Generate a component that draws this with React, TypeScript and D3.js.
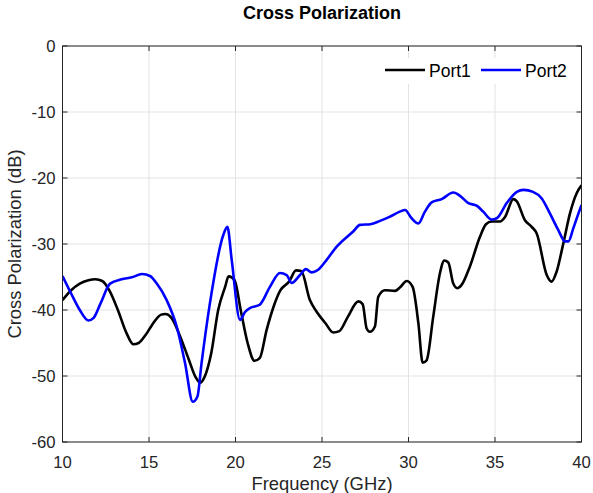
import React from "react";
import * as d3 from "d3";

const port1Freq = [10, 10.5, 11, 11.5, 11.9, 12.3, 12.7, 13.2, 13.7, 14.1, 14.4, 14.8, 15.3, 15.7, 15.95, 16.3, 16.8, 17.3, 17.7, 17.95, 18.2, 18.6, 19.0, 19.4, 19.6, 19.95, 20.3, 20.7, 21.1, 21.4, 21.8, 22.2, 22.6, 23.1, 23.5, 23.8, 24.3, 24.7, 25.2, 25.65, 26.0, 26.5, 27.1, 27.35, 27.58, 27.77, 28.06, 28.25, 28.64, 29.22, 29.5, 29.9, 30.24, 30.57, 30.82, 31.05, 31.43, 31.82, 32.07, 32.3, 32.59, 32.82, 33.07, 33.55, 34.13, 34.48, 34.8, 35.29, 35.58, 36.06, 36.25, 36.73, 37.12, 37.41, 37.99, 38.27, 38.56, 38.95, 39.33, 39.72, 40];
const port1Values = [-38.5, -37, -36, -35.5, -35.35, -35.6, -37, -40, -43.5, -45.2, -45, -43.8, -41.8, -40.7, -40.6, -41.2, -44, -47.5, -50.2, -51.0, -50.2, -46.5, -40, -36.5, -34.9, -35.5, -40, -45, -47.7, -47.3, -43, -39.5, -37, -35.7, -34, -34.1, -38.5, -40.3, -42, -43.4, -43.2, -41, -38.7, -39.1, -42.8, -43.3, -42.5, -38, -37, -37.1, -36.6, -35.6, -36.5, -42, -48, -47.6, -41, -34.4, -32.5, -32.8, -36, -36.7, -36.2, -33.4, -28.9, -27, -26.6, -26.6, -25.9, -23.2, -23.5, -26.4, -27.4, -28.4, -34.7, -35.7, -34.2, -29.9, -25.4, -22.3, -21.1];

const port2Freq = [10, 10.5, 11, 11.5, 11.8, 12.2, 12.75, 13.42, 14.0, 14.6, 15.06, 15.45, 16.02, 16.6, 17.08, 17.53, 17.8, 18.04, 18.52, 19.3, 19.53, 19.78, 20.26, 20.55, 20.84, 21.4, 21.99, 22.57, 22.96, 23.25, 23.73, 24.07, 24.4, 24.78, 25.27, 25.85, 26.8, 27.2, 27.8, 28.35, 28.9, 29.5, 29.8, 30.18, 30.57, 30.95, 31.34, 31.92, 32.59, 32.98, 33.46, 33.94, 34.32, 34.8, 35.1, 35.68, 36.26, 36.65, 37.2, 37.7, 38.18, 38.66, 39.05, 39.24, 39.53, 39.82, 40];
const port2Values = [-34.85, -37.5, -40, -41.6, -41.2, -39, -36, -35.35, -35.05, -34.55, -34.85, -36, -38.5, -42.5, -48, -53.9, -53.1, -48, -39, -28.6, -27.4, -32.4, -41.5, -40.3, -39.7, -39.2, -36.5, -34.4, -34.7, -35.9, -34.7, -33.8, -34.3, -33.9, -32.4, -30.4, -28.1, -27.1, -27, -26.5, -25.9, -25.1, -24.85, -26.1, -26.9, -25.1, -23.7, -23.2, -22.2, -22.7, -23.8, -24.2, -25.1, -26.3, -26.1, -23.8, -22.1, -21.8, -22.1, -23.1, -25.4, -27.9, -29.6, -29.6, -27.6, -25.4, -24.1];

const xTicks = [10, 15, 20, 25, 30, 35, 40];
const yTicks = [0, -10, -20, -30, -40, -50, -60];
const seriesNames = ["Port1", "Port2"];
const seriesColors = ["#000000", "#0000ff"];

export default function App() {
  const W = 593, H = 493;
  const left = 62.5, right = 581.5, top = 46, bottom = 442;
  const x = d3.scaleLinear().domain([10, 40]).range([left, right]);
  const y = d3.scaleLinear().domain([-60, 0]).range([bottom, top]);
  const line = d3.line<[number, number]>().x(d => x(d[0])).y(d => y(d[1])).curve(d3.curveMonotoneX);
  const series = [
    port1Freq.map((f, i) => [f, port1Values[i]] as [number, number]),
    port2Freq.map((f, i) => [f, port2Values[i]] as [number, number]),
  ];
  const font = "Liberation Sans, Arial, sans-serif";
  const axisColor = "#262626";
  const tl = 5;
  const tickFs = 16.7;
  const labelFs = 18.4;
  const legendX = [385, 481];
  return (
    <svg width={W} height={H} style={{ position: "absolute", left: 0, top: 0, background: "#fff" }} fontFamily={font}>
      <rect x={0} y={0} width={W} height={H} fill="#fff" />
      <text x={(left + right) / 2} y={19} textAnchor="middle" fontWeight="bold" fontSize={18} fill="#000">Cross Polarization</text>
      {xTicks.map(t => (
        <line key={"gx" + t} x1={x(t)} x2={x(t)} y1={top} y2={bottom} stroke="#e3e3e3" strokeWidth={1} />
      ))}
      {yTicks.map(t => (
        <line key={"gy" + t} x1={left} x2={right} y1={y(t)} y2={y(t)} stroke="#e3e3e3" strokeWidth={1} />
      ))}
      <clipPath id="clip"><rect x={left} y={top} width={right - left} height={bottom - top} /></clipPath>
      <g clipPath="url(#clip)">
        {series.map((s, i) => (
          <path key={i} d={line(s) || ""} fill="none" stroke={seriesColors[i]} strokeWidth={2.6} strokeLinejoin="round" />
        ))}
      </g>
      <rect x={left} y={top} width={right - left} height={bottom - top} fill="none" stroke={axisColor} strokeWidth={1} />
      {xTicks.map(t => (
        <g key={"tx" + t}>
          <line x1={x(t)} x2={x(t)} y1={bottom} y2={bottom - tl} stroke={axisColor} />
          <line x1={x(t)} x2={x(t)} y1={top} y2={top + tl} stroke={axisColor} />
          <text x={x(t)} y={467.5} textAnchor="middle" fontSize={tickFs} fill={axisColor}>{t}</text>
        </g>
      ))}
      {yTicks.map(t => (
        <g key={"ty" + t}>
          <line x1={left} x2={left + tl} y1={y(t)} y2={y(t)} stroke={axisColor} />
          <line x1={right} x2={right - tl} y1={y(t)} y2={y(t)} stroke={axisColor} />
          <text x={left - 7} y={y(t) + 6} textAnchor="end" fontSize={tickFs} fill={axisColor}>{t}</text>
        </g>
      ))}
      <text x={(left + right) / 2} y={490} textAnchor="middle" fontSize={labelFs} fill={axisColor}>Frequency (GHz)</text>
      <text transform={`translate(21,${(top + bottom) / 2}) rotate(-90)`} textAnchor="middle" fontSize={labelFs} fill={axisColor}>Cross Polarization (dB)</text>
      <g>
        <rect x={381} y={58} width={196} height={26} fill="#fff" />
        {seriesNames.map((n, i) => (
          <g key={n}>
            <line x1={legendX[i]} x2={legendX[i] + 40} y1={70} y2={70} stroke={seriesColors[i]} strokeWidth={2.6} />
            <text x={legendX[i] + 44} y={76.5} fontSize={17.5} fill="#000">{n}</text>
          </g>
        ))}
      </g>
    </svg>
  );
}
